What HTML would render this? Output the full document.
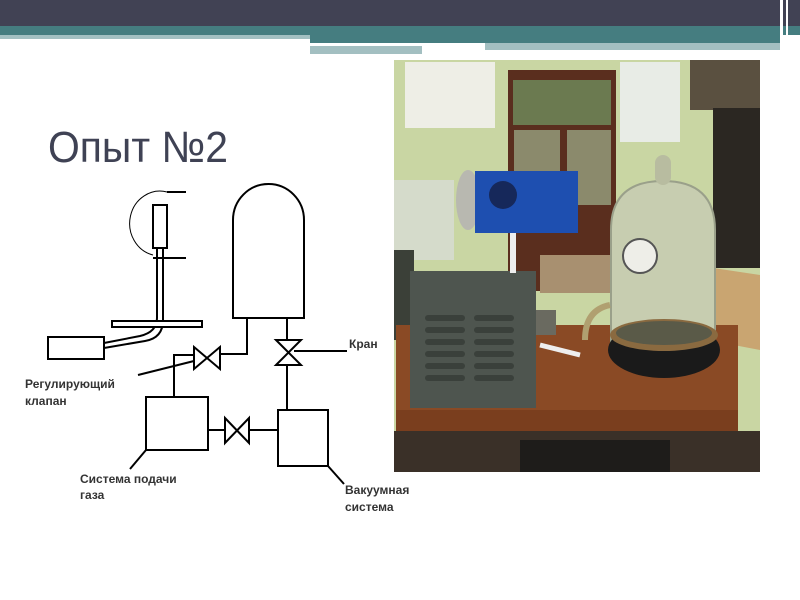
<!DOCTYPE html>
<html><head><meta charset="utf-8"><style>
html,body{margin:0;padding:0;background:#fff;}
svg{display:block;}
</style></head><body>
<svg width="800" height="600" viewBox="0 0 800 600" xmlns="http://www.w3.org/2000/svg">
<rect width="800" height="600" fill="#fff"/>
<!-- header -->
<rect x="0" y="0" width="800" height="26" fill="#414254"/>
<rect x="0" y="26" width="800" height="9" fill="#457d80"/>
<rect x="0" y="35" width="310" height="4" fill="#a3c0c2"/>
<rect x="310" y="35" width="470" height="8" fill="#457d80"/>
<rect x="310" y="43" width="175" height="2" fill="#fff"/>
<rect x="485" y="43" width="295" height="7" fill="#a3bfc1"/>
<rect x="310" y="46" width="112" height="8" fill="#a3bfc1"/>
<rect x="422" y="50" width="358" height="4" fill="#fff"/>
<rect x="780" y="0" width="3" height="54" fill="#fff"/>
<rect x="786" y="0" width="2" height="54" fill="#fff"/>
<!-- title -->
<text x="48" y="162" font-family="Liberation Sans, sans-serif" font-size="44" fill="#3f4254" textLength="180" lengthAdjust="spacingAndGlyphs">Опыт №2</text>

<!-- photo -->
<g>
<rect x="394" y="60" width="366" height="412" fill="#c9d6a3"/>
<rect x="405" y="62" width="90" height="66" fill="#eeeee6"/>
<rect x="620" y="62" width="60" height="80" fill="#e8ece6"/>
<rect x="508" y="70" width="108" height="221" fill="#5a2e1e"/>
<rect x="513" y="80" width="98" height="45" fill="#6b7a50"/>
<rect x="514" y="130" width="46" height="75" fill="#8b8a6c"/>
<rect x="567" y="130" width="44" height="75" fill="#8b8a6c"/>
<rect x="540" y="255" width="75" height="38" fill="#a89070"/>
<rect x="690" y="60" width="70" height="50" fill="#5a5040"/>
<rect x="713" y="108" width="47" height="160" fill="#2b2722"/>
<polygon points="660,260 760,275 760,350 655,330" fill="#c9a571"/>
<rect x="394" y="180" width="60" height="80" fill="#d8dcd4" opacity="0.8"/>
<rect x="394" y="250" width="20" height="90" fill="#3b4038"/>
<rect x="396" y="325" width="342" height="106" fill="#8a4a25"/>
<rect x="396" y="410" width="342" height="21" fill="#7a3e1e"/>
<rect x="394" y="431" width="366" height="41" fill="#3a3028"/>
<rect x="520" y="440" width="150" height="32" fill="#1e1c1a"/>
<!-- gray box -->
<rect x="410" y="271" width="126" height="137" fill="#4e554f"/>
<g fill="#3a403b">
<rect x="425" y="315" width="40" height="6" rx="3"/><rect x="425" y="327" width="40" height="6" rx="3"/><rect x="425" y="339" width="40" height="6" rx="3"/><rect x="425" y="351" width="40" height="6" rx="3"/><rect x="425" y="363" width="40" height="6" rx="3"/><rect x="425" y="375" width="40" height="6" rx="3"/>
<rect x="474" y="315" width="40" height="6" rx="3"/><rect x="474" y="327" width="40" height="6" rx="3"/><rect x="474" y="339" width="40" height="6" rx="3"/><rect x="474" y="351" width="40" height="6" rx="3"/><rect x="474" y="363" width="40" height="6" rx="3"/><rect x="474" y="375" width="40" height="6" rx="3"/>
</g>
<rect x="536" y="310" width="20" height="25" fill="#6a6a60"/>
<path d="M540 345 Q560 350 580 355" stroke="#eee" stroke-width="5" fill="none"/>
<!-- blue cylinder -->
<ellipse cx="468" cy="200" rx="12" ry="30" fill="#b8b8b0"/>
<rect x="475" y="171" width="103" height="62" fill="#1e4fb0"/>
<circle cx="503" cy="195" r="14" fill="#16285a"/>
<rect x="510" y="233" width="6" height="40" fill="#eee"/>
<!-- bell jar -->
<path d="M611 351 L611 230 Q611 181 663 181 Q715 181 715 230 L715 351 Z" fill="#c7cdb0" stroke="#9aa08a" stroke-width="2"/>
<rect x="655" y="155" width="16" height="30" rx="8" fill="#b8bca0"/>
<circle cx="640" cy="256" r="17" fill="#eeeee8" stroke="#555" stroke-width="2"/>
<ellipse cx="664" cy="350" rx="56" ry="28" fill="#1a1a1a"/>
<ellipse cx="664" cy="335" rx="54" ry="16" fill="#8a6a40"/>
<ellipse cx="664" cy="333" rx="48" ry="12" fill="#5a5a48"/>
<path d="M585 340 Q585 310 610 305" stroke="#b0a070" stroke-width="6" fill="none"/>
</g>

<!-- diagram -->
<g stroke="#000" stroke-width="2" fill="none">
<!-- probe -->
<path d="M167 192 A 30 32 0 0 0 153 255" stroke-width="1"/>
<line x1="167" y1="192" x2="186" y2="192"/>
<line x1="153" y1="258" x2="186" y2="258"/>
<rect x="153" y="205" width="14" height="43" fill="#fff"/>
<path d="M157 248 L157 318 Q157 332 140 336 L104 343"/>
<path d="M163 248 L163 320 Q163 338 145 341 L104 348"/>
<rect x="112" y="321" width="90" height="6" fill="#fff"/>
<rect x="48" y="337" width="56" height="22"/>
<!-- dome -->
<path d="M233 318 L233 220 A35.5 36 0 0 1 304 220 L304 318 Z"/>
<!-- left pipe to valve1 -->
<polyline points="247,318 247,354 220,354"/>
<path d="M194 347 L220 369 L220 347 L194 369 Z"/>
<polyline points="194,355 174,355 174,397"/>
<line x1="138" y1="375" x2="194" y2="361"/>
<!-- right pipe valve2 -->
<line x1="287" y1="318" x2="287" y2="340"/>
<path d="M276 340 L301 365 L276 365 L301 340 Z"/>
<line x1="294" y1="351" x2="347" y2="351"/>
<line x1="287" y1="365" x2="287" y2="410"/>
<rect x="278" y="410" width="50" height="56"/>
<rect x="146" y="397" width="62" height="53"/>
<!-- bottom valve -->
<line x1="208" y1="430" x2="225" y2="430"/>
<path d="M225 418 L249 443 L249 418 L225 443 Z"/>
<line x1="249" y1="430" x2="278" y2="430"/>
<line x1="146" y1="450" x2="130" y2="469"/>
<line x1="328" y1="466" x2="344" y2="484"/>
</g>
<g font-family="Liberation Sans, sans-serif" font-size="12" font-weight="bold" fill="#333">
<text x="349" y="348">Кран</text>
<text x="25" y="388">Регулирующий</text>
<text x="25" y="405">клапан</text>
<text x="80" y="483">Система подачи</text>
<text x="80" y="499">газа</text>
<text x="345" y="494">Вакуумная</text>
<text x="345" y="511">система</text>
</g>
</svg>
</body></html>
